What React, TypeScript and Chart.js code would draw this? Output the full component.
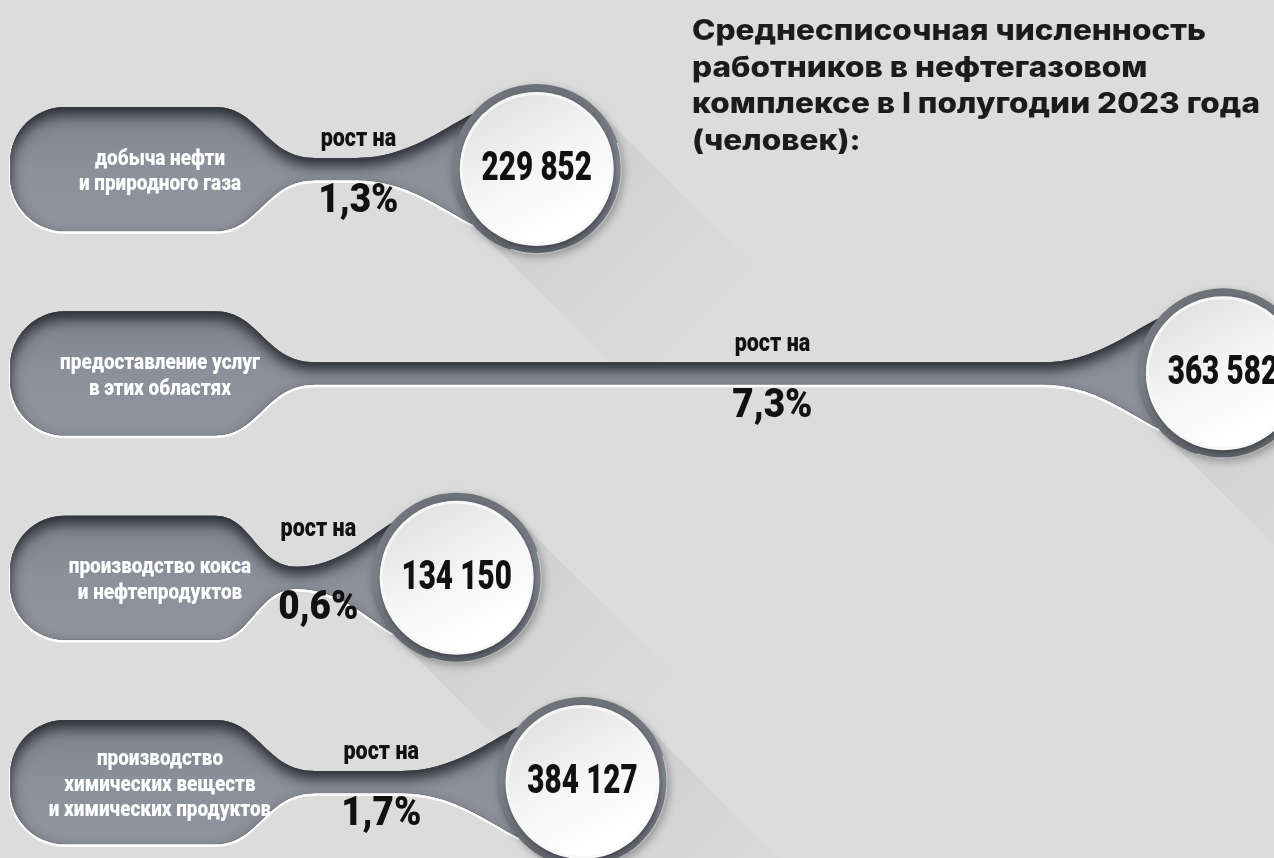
import React, { useEffect, useRef } from "react";
import { Chart, registerables } from "chart.js";

Chart.register(...registerables);

// ---------- data ----------
const categoryLabels: string[][] = [
  ["добыча нефти", "и природного газа"],
  ["предоставление услуг", "в этих областях"],
  ["производство кокса", "и нефтепродуктов"],
  ["производство", "химических веществ", "и химических продуктов"],
];
const headcount = [229852, 363582, 134150, 384127];
const growthPercent = [1.3, 7.3, 0.6, 1.7];
const growthCaption = "рост на";
const titleLines = [
  "Среднесписочная численность",
  "работников в нефтегазовом",
  "комплексе в I полугодии 2023 года",
  "(человек):",
];

// value axis range (growth, %)
const X_MIN = -3.306;
const X_MAX = 7.747;

const BG = "#dcdcdc";
const COND_FONT = "Roboto, 'DejaVu Sans', sans-serif";
const TITLE_FONT = "Inter, Lato, 'Noto Sans', sans-serif";

function fmtInt(n: number): string {
  return String(n).replace(/\B(?=(\d{3})+(?!\d))/g, " ");
}
function fmtPct(v: number): string {
  return v.toFixed(1).replace(".", ",") + "%";
}

function condText(
  ctx: CanvasRenderingContext2D,
  text: string,
  x: number,
  y: number,
  size: number,
  color: string,
  sx: number,
  weight = 900
) {
  ctx.save();
  ctx.translate(x, y);
  ctx.scale(sx, 1);
  ctx.font = `${weight} ${size}px ${COND_FONT}`;
  ctx.fillStyle = color;
  ctx.textAlign = "center";
  ctx.textBaseline = "middle";
  ctx.fillText(text, 0, 0);
  ctx.restore();
}

type Seg = { t: "L" | "C"; c?: number[]; x: number; y: number };

function buildShape(x0: number, cy: number, ex: number, R: number) {
  const H = 62;
  const r = 55;
  const neck = 11;
  const xA = x0 + 205;
  const ax = ex - 0.766 * R;
  const ay = 0.643 * R;
  const stdSpan = 100 + 115;
  const span = ax - xA;
  const top: Seg[] = [{ t: "L", x: xA, y: -H }];
  let short = false;
  if (span >= stdSpan) {
    const n1 = xA + 100;
    const n2 = ax - 115;
    top.push({ t: "C", c: [xA + 45, -H, xA + 50, -neck], x: n1, y: -neck });
    top.push({ t: "L", x: n2, y: -neck });
    top.push({ t: "C", c: [n2 + 50, -neck, n2 + 85, -ay + 15], x: ax, y: -ay });
  } else {
    short = true;
    const s = span / stdSpan;
    const xm = xA + 100 * s;
    top.push({ t: "C", c: [xA + 45 * s, -H, xA + 50 * s, -neck], x: xm, y: -neck });
    top.push({ t: "C", c: [xm + 50 * s, -neck, xm + 85 * s, -ay + 15], x: ax, y: -ay });
  }
  top.push({ t: "L", x: ex, y: -ay });

  const p = new Path2D();
  const start = { x: x0 + r, y: -H };
  p.moveTo(start.x, cy + start.y);
  for (const s of top) {
    if (s.t === "L") p.lineTo(s.x, cy + s.y);
    else p.bezierCurveTo(s.c![0], cy + s.c![1], s.c![2], cy + s.c![3], s.x, cy + s.y);
  }
  p.lineTo(ex, cy + ay);
  for (let i = top.length - 1; i >= 0; i--) {
    const s = top[i];
    const prev = i > 0 ? top[i - 1] : start;
    if (s.t === "L") p.lineTo(prev.x, cy - prev.y);
    else p.bezierCurveTo(s.c![2], cy - s.c![3], s.c![0], cy - s.c![1], prev.x, cy - prev.y);
  }
  p.arcTo(x0, cy + H, x0, cy, r);
  p.arcTo(x0, cy - H, x0 + r, cy - H, r);
  p.closePath();
  return { path: p, short, H };
}

function drawShape(ctx: CanvasRenderingContext2D, path: Path2D, cy: number, H: number) {
  ctx.save();
  ctx.translate(0, 1.8);
  ctx.strokeStyle = "rgba(255,255,255,0.95)";
  ctx.lineWidth = 2.2;
  ctx.stroke(path);
  ctx.restore();
  ctx.save();
  const g = ctx.createLinearGradient(0, cy - H, 0, cy + H);
  g.addColorStop(0, "#7e828c");
  g.addColorStop(0.5, "#8c909a");
  g.addColorStop(1, "#8f939d");
  ctx.fillStyle = g;
  ctx.fill(path);
  ctx.restore();
  ctx.save();
  ctx.clip(path);
  ctx.shadowColor = "rgba(25,27,33,0.85)";
  ctx.shadowBlur = 14;
  ctx.shadowOffsetX = 0;
  ctx.shadowOffsetY = 8;
  const hole = new Path2D();
  hole.rect(-3000, -3000, 8000, 8000);
  hole.addPath(path);
  ctx.fillStyle = "#000";
  ctx.fill(hole, "evenodd");
  ctx.restore();
}

function drawLongShadow(ctx: CanvasRenderingContext2D, cx: number, cy: number, R: number) {
  const d = Math.SQRT1_2;
  const L = 230;
  ctx.save();
  ctx.beginPath();
  ctx.moveTo(cx + R * d, cy - R * d);
  ctx.lineTo(cx + R * d + L * d, cy - R * d + L * d);
  ctx.lineTo(cx - R * d + L * d, cy + R * d + L * d);
  ctx.lineTo(cx - R * d, cy + R * d);
  ctx.closePath();
  const g = ctx.createLinearGradient(cx, cy, cx + L * d, cy + L * d);
  g.addColorStop(0, "rgba(0,0,0,0.07)");
  g.addColorStop(0.5, "rgba(0,0,0,0.028)");
  g.addColorStop(1, "rgba(0,0,0,0)");
  ctx.fillStyle = g;
  ctx.fill();
  ctx.restore();
}

function drawCircle(ctx: CanvasRenderingContext2D, cx: number, cy: number, R: number) {
  const TAU = Math.PI * 2;
  ctx.save();
  ctx.shadowColor = "rgba(0,0,0,0.3)";
  ctx.shadowBlur = 8;
  ctx.shadowOffsetX = 2;
  ctx.shadowOffsetY = 3;
  ctx.beginPath();
  ctx.arc(cx, cy, R, 0, TAU);
  const g = ctx.createLinearGradient(cx, cy - R, cx, cy + R);
  g.addColorStop(0, "#6c7079");
  g.addColorStop(0.5, "#7d818a");
  g.addColorStop(1, "#5c6068");
  ctx.fillStyle = g;
  ctx.fill();
  ctx.restore();
  ctx.save();
  ctx.beginPath();
  ctx.arc(cx, cy, R - 0.5, -0.1 * Math.PI, 0.6 * Math.PI);
  ctx.strokeStyle = "rgba(255,255,255,0.55)";
  ctx.lineWidth = 1.2;
  ctx.stroke();
  ctx.restore();
  ctx.save();
  ctx.shadowColor = "rgba(0,0,0,0.35)";
  ctx.shadowBlur = 5;
  ctx.shadowOffsetX = 1;
  ctx.shadowOffsetY = 2;
  ctx.beginPath();
  ctx.arc(cx, cy, R - 8, 0, TAU);
  ctx.fillStyle = "#f7f7f7";
  ctx.fill();
  ctx.restore();
  ctx.save();
  ctx.beginPath();
  ctx.arc(cx, cy, R - 11, 0, TAU);
  const g2 = ctx.createLinearGradient(cx - R * 0.5, cy - R * 0.8, cx + R * 0.3, cy + R * 0.7);
  g2.addColorStop(0, "#e1e1e1");
  g2.addColorStop(0.55, "#f6f6f6");
  g2.addColorStop(1, "#ffffff");
  ctx.fillStyle = g2;
  ctx.fill();
  ctx.restore();
}

const infographicPlugin = {
  id: "infographic",
  beforeDraw(chart: any) {
    const ctx = chart.ctx as CanvasRenderingContext2D;
    ctx.save();
    ctx.fillStyle = BG;
    ctx.fillRect(0, 0, chart.width, chart.height);
    ctx.restore();
  },
  afterDatasetsDraw(chart: any) {
    const ctx = chart.ctx as CanvasRenderingContext2D;
    const meta = chart.getDatasetMeta(0);
    const R = 85;
    const rows = meta.data.map((el: any, i: number) => {
      const p = el.getProps(["x", "y", "base"], true);
      const x0 = p.base;
      const ex = p.x;
      const cy = p.y;
      const shape = buildShape(x0, cy, ex, R);
      return { i, x0, ex, cy, shape };
    });
    rows.forEach((r: any) => drawLongShadow(ctx, r.ex, r.cy, R));
    rows.forEach((r: any) => {
      drawShape(ctx, r.shape.path, r.cy, r.shape.H);
      drawCircle(ctx, r.ex, r.cy, R);
      condText(ctx, fmtInt(headcount[r.i]), r.ex, r.cy + 1, 40, "#111111", 0.74);
      const lines = categoryLabels[r.i];
      const lh = 25.5;
      lines.forEach((ln: string, j: number) => {
        condText(ctx, ln, r.x0 + 150, r.cy + 3 + (j - (lines.length - 1) / 2) * lh, 22, "#ffffff", 0.86, 900);
      });
      const len = r.ex - R - (r.x0 + 255);
      const tx = (r.x0 + 255 + r.ex - R) / 2 + Math.max(0, (len - 400) * 0.15);
      const upY = r.shape.short ? r.cy - 48 : r.cy - 29;
      const dnY = r.shape.short ? r.cy + 31 : r.cy + 33;
      condText(ctx, growthCaption, tx, upY, 25, "#111111", 0.86);
      condText(ctx, fmtPct(growthPercent[r.i]), tx, dnY, 41, "#111111", 0.9);
    });
  },
  afterDraw(chart: any) {
    const ctx = chart.ctx as CanvasRenderingContext2D;
    ctx.save();
    ctx.font = `800 28px ${TITLE_FONT}`;
    const w1 = ctx.measureText(titleLines[0]).width;
    const w3 = ctx.measureText(titleLines[2]).width;
    const sx = Math.max(0.75, Math.min(1.3, 515 / w1, 568 / w3));
    ctx.fillStyle = "#1b1b1b";
    ctx.textAlign = "left";
    ctx.textBaseline = "alphabetic";
    titleLines.forEach((t, i) => {
      ctx.save();
      ctx.translate(692, 40 + i * 36.5);
      ctx.scale(sx, 1);
      ctx.fillText(t, 0, 0);
      ctx.restore();
    });
    ctx.restore();
  },
};

export default function App() {
  const ref = useRef<HTMLCanvasElement | null>(null);
  useEffect(() => {
    if (!ref.current) return;
    const chart = new Chart(ref.current, {
      type: "bar",
      data: {
        labels: categoryLabels.map((l) => l.join(" ")),
        datasets: [
          {
            label: "Рост, %",
            data: growthPercent,
            base: X_MIN,
            backgroundColor: "rgba(0,0,0,0)",
            borderWidth: 0,
            clip: false as any,
          } as any,
        ],
      },
      options: {
        indexAxis: "y",
        responsive: true,
        maintainAspectRatio: false,
        animation: false,
        layout: { padding: { left: 10, right: 0, top: 169, bottom: 76 } },
        plugins: {
          legend: { display: false },
          tooltip: { enabled: false },
          title: { display: false },
        },
        scales: {
          x: { type: "linear", min: X_MIN, max: X_MAX, display: false },
          y: { type: "category", offset: false, display: false },
        },
      },
      plugins: [infographicPlugin],
    });
    return () => chart.destroy();
  }, []);
  return (
    <div
      style={{
        position: "fixed",
        left: 0,
        top: 0,
        width: "100vw",
        height: "100vh",
        background: BG,
      }}
    >
      <canvas ref={ref} />
    </div>
  );
}
